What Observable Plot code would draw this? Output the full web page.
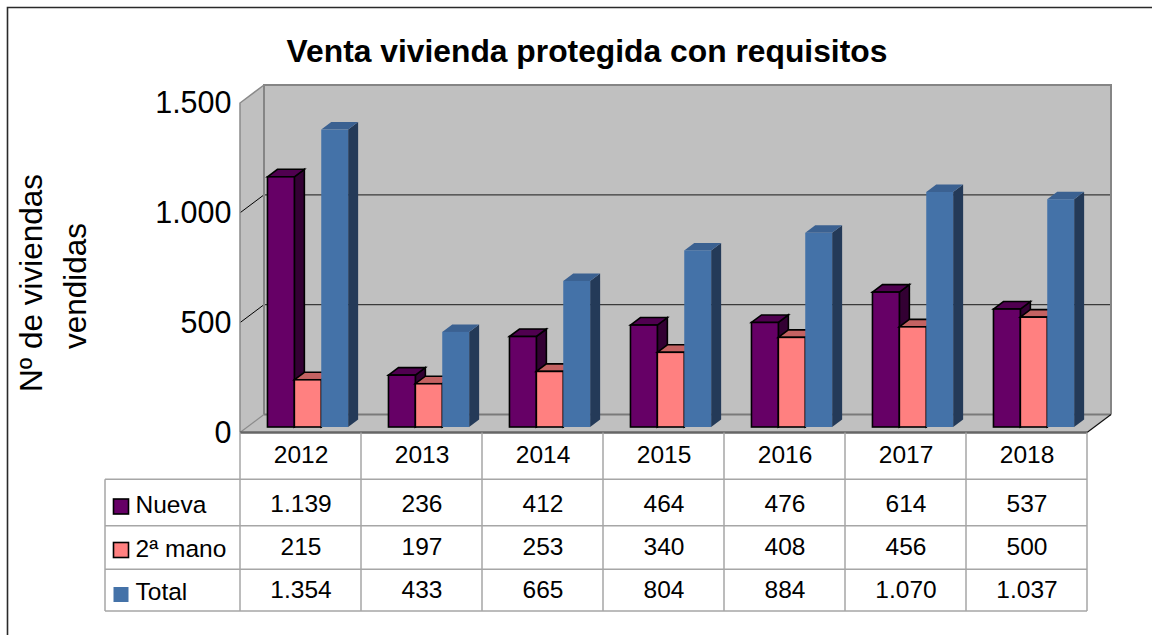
<!DOCTYPE html>
<html><head><meta charset="utf-8">
<script src="https://cdn.jsdelivr.net/npm/d3@7"></script>
<script src="https://cdn.jsdelivr.net/npm/@observablehq/plot@0.6"></script>
<style>body{margin:0;background:#fff} svg{display:block}</style>
</head><body><div id="chart"></div>
<script>
const years = ["2012","2013","2014","2015","2016","2017","2018"];
const nueva = [1139,236,412,464,476,614,537];
const segunda = [215,197,253,340,408,456,500];
const total = [1354,433,665,804,884,1070,1037];
const seriesNames = ["Nueva","2ª mano","Total"];
const yTicks = [0,500,1000,1500];
const title = "Venta vivienda protegida con requisitos";
const yTitle = ["Nº de viviendas","vendidas"];

const seriesValues = [nueva, segunda, total];
const colors = [
  {front:"#660066", top:"#500050", side:"#330033", stroke:"#000"},
  {front:"#ff8080", top:"#c46262", side:"#804040", stroke:"#000"},
  {front:"#4472a8", top:"#3b6191", side:"#243a58", stroke:"none"}
];
const rows = [];
years.forEach((yr,i)=> seriesValues.forEach((vals,s)=> rows.push({year: yr, s, series: seriesNames[s], value: vals[i]})));

const loc = d3.formatLocale({decimal: ",", thousands: ".", grouping: [3], currency: ["","€"]});
const fmt = loc.format(",d");

const FONT = "'Liberation Sans', Arial, sans-serif";
const DX = 24, DY = 18;          // wall depth
const BOX = 7.3, BOY = 5.5;      // bar front offset into depth
const BDX = 10, BDY = 7.5;       // bar depth

function walls(index, {x, y}, values, dims) {
  const x0 = dims.marginLeft, x1 = dims.width - dims.marginRight;
  const y0 = y(0), yT = y(yTicks[yTicks.length-1]);
  const g = d3.create("svg:g");
  g.append("rect").attr("x", x0+DX).attr("y", yT-DY).attr("width", x1-x0).attr("height", y0-yT).attr("fill", "#c0c0c0");
  g.append("path").attr("d", `M${x0},${yT}L${x0+DX},${yT-DY}V${y0-DY}L${x0},${y0}Z`).attr("fill","#c0c0c0");
  for (const t of yTicks.slice(1,-1)) {
    g.append("line").attr("x1", x0+DX).attr("x2", x1+DX).attr("y1", y(t)-DY).attr("y2", y(t)-DY).attr("stroke","#3a3a3a").attr("stroke-width",1.2);
    g.append("line").attr("x1", x0).attr("x2", x0+DX).attr("y1", y(t)).attr("y2", y(t)-DY).attr("stroke","#000").attr("stroke-width",1);
  }
  g.append("path").attr("d", `M${x0},${y0}L${x0+DX},${y0-DY}H${x1+DX}L${x1},${y0}Z`).attr("fill","#c0c0c0");
  g.append("path").attr("d", `M${x0+DX},${y0-DY}V${yT-DY}H${x1+DX}V${y0-DY}`).attr("fill","none").attr("stroke","#858585").attr("stroke-width",2);
  g.append("line").attr("x1", x0+DX).attr("x2", x1+DX).attr("y1", y0-DY).attr("y2", y0-DY).attr("stroke","#7a7a7a").attr("stroke-width",2);
  g.append("path").attr("d", `M${x0},${y0}V${yT}L${x0+DX},${yT-DY}`).attr("fill","none").attr("stroke","#8a8a8a").attr("stroke-width",1.5);
  g.append("line").attr("x1", x0).attr("x2", x0+DX).attr("y1", y0).attr("y2", y0-DY).attr("stroke","#8a8a8a").attr("stroke-width",1.2);
  g.append("line").attr("x1", x0).attr("x2", x1).attr("y1", y0).attr("y2", y0).attr("stroke","#666").attr("stroke-width",2.5);
  g.append("line").attr("x1", x1).attr("x2", x1+DX).attr("y1", y0).attr("y2", y0-DY).attr("stroke","#111").attr("stroke-width",1.2);
  return g.node();
}

function bars(index, {x, y}, values, dims) {
  const bw = x.bandwidth ? x.bandwidth() : (dims.width - dims.marginLeft - dims.marginRight) / years.length;
  const w = bw / 4.5;
  const g = d3.create("svg:g").attr("stroke-linejoin","miter");
  for (const d of rows) {
    const c = colors[d.s];
    const xl = x(d.year) + 0.75*w + d.s*w + BOX, xr = xl + w;
    const yb = y(0) - BOY, yt = y(d.value) - BOY;
    const sw = c.stroke === "none" ? 0 : 1.6;
    const st = c.stroke;
    g.append("path").attr("d", `M${xr},${yt}L${xr+BDX},${yt-BDY}V${yb-BDY}L${xr},${yb}Z`).attr("fill", c.side).attr("stroke", st).attr("stroke-width", sw);
    g.append("path").attr("d", `M${xl},${yt}L${xl+BDX},${yt-BDY}H${xr+BDX}L${xr},${yt}Z`).attr("fill", c.top).attr("stroke", st).attr("stroke-width", sw);
    g.append("rect").attr("x", xl).attr("y", yt).attr("width", w).attr("height", yb-yt).attr("fill", c.front).attr("stroke", st).attr("stroke-width", sw);
  }
  return g.node();
}

const ROW = [0, 46.8, 93.2, 136.8, 178.5]; // table row boundaries below axis baseline
const LEG_X = 105;

function table(index, {x, y}, values, dims) {
  const x1 = dims.width - dims.marginRight, y0 = y(0);
  const g = d3.create("svg:g").attr("stroke","#a6a6a6").attr("stroke-width",1.5);
  for (let r = 1; r < ROW.length; r++)
    g.append("line").attr("x1", LEG_X).attr("x2", x1).attr("y1", y0+ROW[r]).attr("y2", y0+ROW[r]);
  for (const yr of years)
    g.append("line").attr("x1", x(yr)).attr("x2", x(yr)).attr("y1", y0).attr("y2", y0+ROW[4]);
  g.append("line").attr("x1", x1).attr("x2", x1).attr("y1", y0).attr("y2", y0+ROW[4]);
  g.append("line").attr("x1", LEG_X).attr("x2", LEG_X).attr("y1", y0+ROW[1]).attr("y2", y0+ROW[4]);
  const keyY = [74, 117.5, 162];
  const labY = [80.2, 124.2, 167.5];
  seriesNames.forEach((name, s) => {
    const c = colors[s];
    g.append("rect").attr("x", 113.5).attr("y", y0+keyY[s]-7.5).attr("width", 15).attr("height", 15)
      .attr("fill", c.front).attr("stroke", c.stroke === "none" ? "none" : "#000").attr("stroke-width", 1.6);
    g.append("text").attr("x", 135.5).attr("y", y0+labY[s]).attr("stroke","none").attr("fill","#000")
      .attr("text-anchor","start").attr("font-size", 24.5).attr("font-family", FONT).text(name);
  });
  return g.node();
}

function titles(index, scales, values, dims) {
  const g = d3.create("svg:g").attr("font-family", FONT).attr("fill", "#000");
  g.append("text").attr("x", 587).attr("y", 62).attr("text-anchor","middle").attr("font-weight","bold").attr("font-size", 31.8).text(title);
  const bx = [42, 86], cy = [283, 286];
  yTitle.forEach((t, i) => g.append("text").attr("transform", `translate(${bx[i]},${cy[i]}) rotate(-90)`)
    .attr("text-anchor","middle").attr("font-size", 31.5).text(t));
  g.append("path").attr("d", "M7.5,700V7.5H1200").attr("fill","none").attr("stroke","#2a2a2a").attr("stroke-width",1.6);
  return g.node();
}

const rowDy = [70.9, 114.2, 157.4];
const chart = Plot.plot({
  width: 1152, height: 635,
  marginLeft: 240, marginRight: 65, marginTop: 103, marginBottom: 202.5,
  style: {fontFamily: FONT, background: "#fff", color: "#000", overflow: "visible"},
  x: {type: "band", domain: years, padding: 0, axis: null},
  y: {domain: [0, 1500], axis: null},
  marks: [
    walls,
    bars,
    Plot.text(yTicks, {y: d => d, text: d => fmt(d), frameAnchor: "left", textAnchor: "end", lineAnchor: "middle", dx: -9, fontSize: 30.5, fill: "#000"}),
    table,
    Plot.text(years, {x: d => d, frameAnchor: "bottom", lineAnchor: "middle", dy: 22.2, fontSize: 24.5, fill: "#000"}),
    ...seriesValues.map((vals, s) => Plot.text(rows.filter(r => r.s === s), {x: "year", text: d => fmt(d.value), frameAnchor: "bottom", lineAnchor: "middle", dy: rowDy[s], fontSize: 24.5, fill: "#000"})),
    titles
  ]
});
document.getElementById("chart").appendChild(chart);
</script>
</body></html>
